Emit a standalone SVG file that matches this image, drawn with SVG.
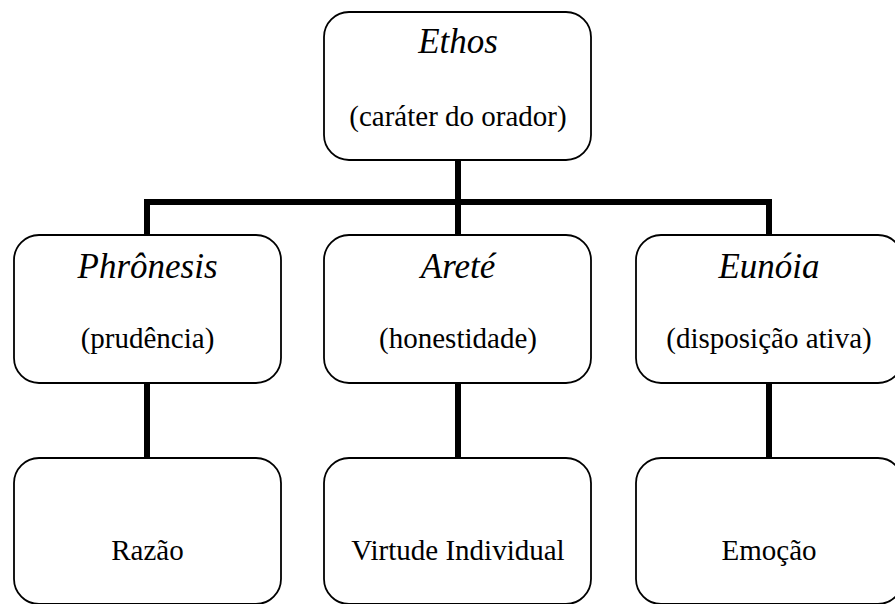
<svg xmlns="http://www.w3.org/2000/svg" width="895" height="604" viewBox="0 0 895 604">
<style>
.box{fill:#fff;stroke:#000;stroke-width:1.8}
.conn{fill:none;stroke:#000;stroke-width:6}
text{text-anchor:middle;fill:#000}
.t{font-style:italic;font-size:35px}
.s{font-size:29px}
</style>
<rect width="895" height="604" fill="#fff"/>
<g id="connectors">
<line class="conn" x1="458" y1="160" x2="458" y2="235"/>
<polyline class="conn" points="147,235 147,202 769,202 769,235"/>
<line class="conn" x1="147" y1="383" x2="147" y2="458"/>
<line class="conn" x1="458" y1="383" x2="458" y2="458"/>
<line class="conn" x1="769" y1="383" x2="769" y2="458"/>
</g>
<g font-family="Liberation Serif, Times New Roman, Tinos, Noto Serif, DejaVu Serif, serif">
<g id="ethos">
<rect class="box" x="324" y="12" width="267" height="148" rx="25"/>
<text class="t" x="458" y="53">Ethos</text>
<text class="s" x="458" y="126">(caráter do orador)</text>
</g>
<g id="phronesis">
<rect class="box" x="14" y="235" width="267" height="148" rx="25"/>
<text class="t" x="147.5" y="278">Phrônesis</text>
<text class="s" x="147.5" y="348">(prudência)</text>
</g>
<g id="arete">
<rect class="box" x="324" y="235" width="267" height="148" rx="25"/>
<text class="t" x="458" y="278">Areté</text>
<text class="s" x="458" y="348">(honestidade)</text>
</g>
<g id="eunoia">
<rect class="box" x="636" y="235" width="267" height="148" rx="25"/>
<text class="t" x="769" y="278">Eunóia</text>
<text class="s" x="769" y="348">(disposição ativa)</text>
</g>
<g id="razao">
<rect class="box" x="14" y="458" width="267" height="146" rx="25"/>
<text class="s" x="147.5" y="560">Razão</text>
</g>
<g id="virtude">
<rect class="box" x="324" y="458" width="267" height="146" rx="25"/>
<text class="s" x="458" y="560">Virtude Individual</text>
</g>
<g id="emocao">
<rect class="box" x="636" y="458" width="267" height="146" rx="25"/>
<text class="s" x="769" y="560">Emoção</text>
</g>
</g>
</svg>
